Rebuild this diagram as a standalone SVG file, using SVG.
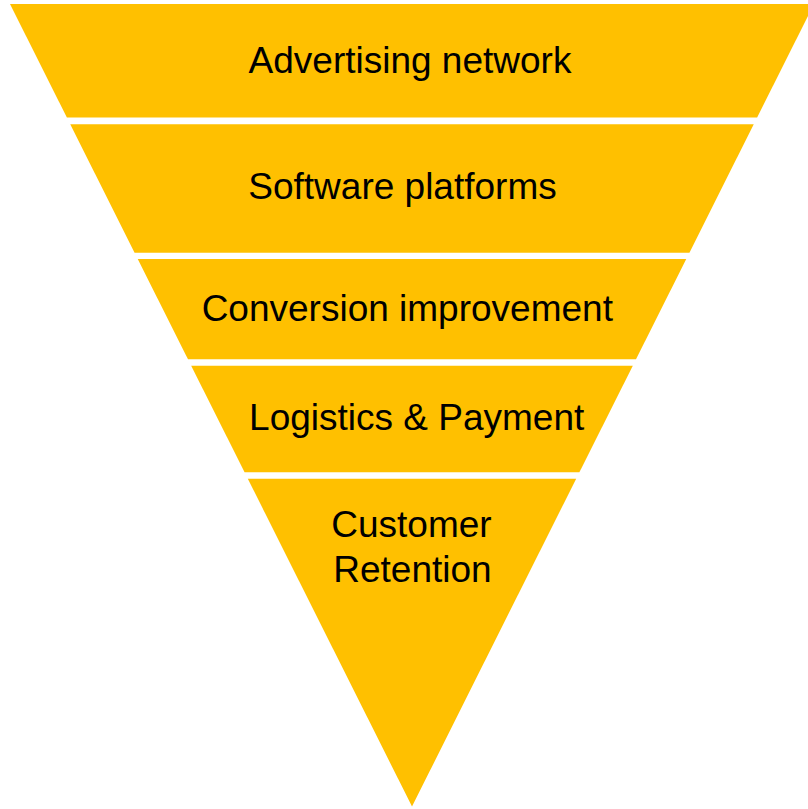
<svg xmlns="http://www.w3.org/2000/svg" width="808" height="809" viewBox="0 0 808 809">
  <style>
    .band { fill: #FFC000; stroke: none; }
    .label { font-family: "Liberation Sans", Arial, sans-serif; font-size: 37px; fill: #000000; text-anchor: middle; }
  </style>
  <rect x="0" y="0" width="808" height="809" fill="#FFFFFF"/>

  <!-- Inverted funnel, five stacked bands -->
  <g id="band-advertising">
    <polygon class="band" points="10,4 814,4 757.14,117.5 66.86,117.5"/>
    <text class="label" x="410" y="73.3">Advertising network</text>
  </g>
  <g id="band-software">
    <polygon class="band" points="70.26,124.3 753.74,124.3 689.42,252.7 134.58,252.7"/>
    <text class="label" x="402.5" y="199">Software platforms</text>
  </g>
  <g id="band-conversion">
    <polygon class="band" points="137.74,259 686.26,259 636.02,359.3 187.98,359.3"/>
    <text class="label" x="407.3" y="320.5">Conversion improvement</text>
  </g>
  <g id="band-logistics">
    <polygon class="band" points="191.19,365.7 632.81,365.7 579.41,472.3 244.59,472.3"/>
    <text class="label" x="416.7" y="430">Logistics &amp; Payment</text>
  </g>
  <g id="band-retention">
    <polygon class="band" points="247.79,478.7 576.21,478.7 412,806.5"/>
    <text class="label" x="411.5" y="536.5">Customer</text>
    <text class="label" x="412.5" y="581.5">Retention</text>
  </g>

  <g id="connectors"/>
</svg>
